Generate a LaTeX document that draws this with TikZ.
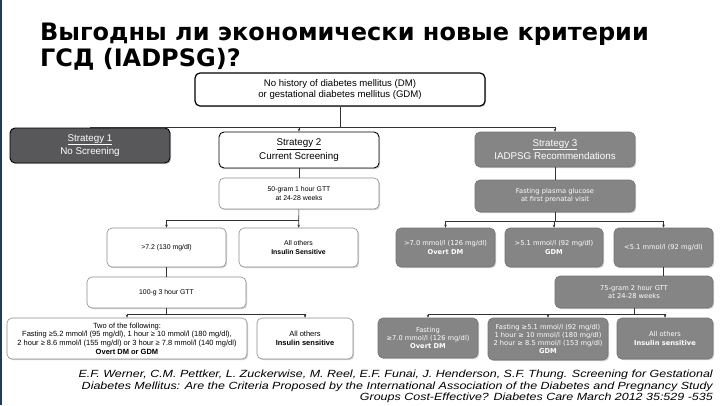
\documentclass[tikz,border=0pt]{standalone}
\usepackage{fontspec}
\setmainfont{Liberation Sans}
\newfontfamily\titlefont{DejaVu Sans}
\newfontfamily\vfont{DejaVu Sans}
\newfontfamily\citefont{Liberation Sans}[FakeStretch=1.2]
\usetikzlibrary{shadows,arrows.meta}
\definecolor{boxgray}{HTML}{858585}
\definecolor{boxdark}{HTML}{58585A}
\definecolor{stripblue}{HTML}{1F3A5A}
\tikzset{
 box/.style={draw, rounded corners=5pt, align=center, inner sep=1pt,
   drop shadow={shadow xshift=1.2pt,shadow yshift=-1.2pt,opacity=0.35}},
 boxsz/.style 2 args={minimum width=#1pt, minimum height=#2pt},
 wbox/.style={box, fill=white, draw=black, line width=0.9pt},
 lbox/.style={box, fill=white, draw=black!45, line width=0.6pt},
 gbox/.style={box, fill=boxgray, draw=black!55, text=white, line width=0.6pt},
 dbox/.style={box, fill=boxdark, draw=black, text=white, line width=0.9pt},
 conn/.style={draw=black!80, line width=0.6pt},
 arr/.style={conn, -{Stealth[length=3pt,width=2.6pt]}},
 big/.style={font=\fontsize{9.8}{13.5}\selectfont},
 mid/.style={font=\fontsize{9.6}{11.5}\selectfont},
 sml/.style={font=\fontsize{6.9}{8.3}\selectfont},
 smlw/.style={font=\fontsize{7.5}{8.6}\selectfont},
 vsml/.style={font=\vfont\fontsize{6.7}{8.1}\selectfont},
}
\begin{document}
\begin{tikzpicture}[x=1pt,y=-1pt]
\fill[white] (0,0) rectangle (720,405);
\useasboundingbox (0,0) rectangle (720,405);
\fill[stripblue] (0,0) rectangle (2.2,405);

% title
\node[anchor=base west, inner sep=0pt, font=\titlefont\bfseries\fontsize{24}{27}\selectfont] (t1) at (40,40) {Выгодны ли экономически новые критерии};
\node[anchor=base west, inner sep=0pt, font=\titlefont\bfseries\fontsize{24}{27}\selectfont] (t2) at (40,66) {ГСД (IADPSG)?};

% top
\node[wbox, boxsz={290}{33}, line width=1.2pt, mid] (top) at (340,89.5) {No history of diabetes mellitus (DM)\\or gestational diabetes mellitus (GDM)};

% strategies
\node[dbox, boxsz={160}{35}, big] (s1) at (90,145.5) {\underline{Strategy 1}\\No Screening};
\node[wbox, boxsz={160}{36}, big] (s2) at (299,150) {\underline{Strategy 2}\\Current Screening};
\node[gbox, boxsz={160}{35}, big] (s3) at (555,149.5) {\underline{Strategy 3}\\IADPSG Recommendations};

% strategy 2 branch
\node[lbox, boxsz={160}{31}, sml] (g50) at (299,193.5) {50-gram 1 hour GTT\\at 24-28 weeks};
\node[lbox, boxsz={119}{39}, sml] (a72) at (166.5,247.5) {>7.2 (130 mg/dl)};
\node[lbox, boxsz={119}{39}, sml] (aoth) at (298.5,247.5) {All others\\\textbf{Insulin Sensitive}};
\node[lbox, boxsz={159}{31}, sml] (g100) at (166.5,292.5) {100-g 3 hour GTT};
\node[lbox, boxsz={240}{41}, smlw] (two) at (127,338.5) {Two of the following:\\Fasting ≥5.2 mmol/l (95 mg/dl), 1 hour ≥ 10 mmol/l (180 mg/dl),\\2 hour ≥ 8.6 mmol/l (155 mg/dl) or 3 hour ≥ 7.8 mmol/l (140 mg/dl)\\\textbf{Overt DM or GDM}};
\node[lbox, boxsz={96}{41}, smlw] (oth2) at (305,338.5) {All others\\\textbf{Insulin sensitive}};

% strategy 3 branch
\node[gbox, boxsz={160}{32}, vsml] (fpg) at (555,196) {Fasting plasma glucose\\at first prenatal visit};
\node[gbox, boxsz={99}{39}, vsml] (r70) at (445.5,247.5) {>7.0 mmol/l (126 mg/dl)\\\textbf{Overt DM}};
\node[gbox, boxsz={98}{39}, vsml] (r51) at (554,247.5) {>5.1 mmol/l (92 mg/dl)\\\textbf{GDM}};
\node[gbox, boxsz={99}{39}, vsml] (rlt) at (663.5,247.5) {<5.1 mmol/l (92 mg/dl)};
\node[gbox, boxsz={158}{32}, vsml] (g75) at (634,292) {75-gram 2 hour GTT\\at 24-28 weeks};
\node[gbox, boxsz={100}{40}, vsml] (f70) at (428,338) {Fasting\\≥7.0 mmol/l (126 mg/dl)\\\textbf{Overt DM}};
\node[gbox, boxsz={120}{42}, vsml] (f51) at (548,339) {Fasting ≥5.1 mmol/l (92 mg/dl)\\1 hour ≥ 10 mmol/l (180 mg/dl)\\2 hour ≥ 8.5 mmol/l (153 mg/dl)\\\textbf{GDM}};
\node[gbox, boxsz={96}{41}, vsml] (oth3) at (665,338.5) {All others\\\textbf{Insulin sensitive}};

% connectors
\coordinate (j1) at (340,127);
\path[conn] (top) -- (j1);
\path[conn] (s1.north |- j1) -- (s3.north |- j1);
\path[conn] (s1.north |- j1) -- (s1.north);
\path[arr] (s2.north |- j1) -- (s2.north);
\path[arr] (s3.north |- j1) -- (s3.north);

\path[conn] (s2) -- (g50);
\path[conn] (s3) -- (fpg);

\coordinate (j2) at (299,220);
\path[arr] (g50) -- (aoth);
\path[conn] (a72.north |- j2) -- (j2);
\path[arr] (a72.north |- j2) -- (a72.north);
\path[conn] (a72) -- (g100);

\coordinate (j3) at (166.5,314);
\path[conn] (g100) -- (j3);
\path[conn] (two.north |- j3) -- (oth2.north |- j3);
\path[arr] (two.north |- j3) -- (two.north);
\path[arr] (oth2.north |- j3) -- (oth2.north);

\coordinate (j4) at (555,221);
\path[conn] (fpg) -- (j4);
\path[conn] (r70.north |- j4) -- (rlt.north |- j4);
\path[arr] (r70.north |- j4) -- (r70.north);
\path[arr] (r51.north |- j4) -- (r51.north);
\path[arr] (rlt.north |- j4) -- (rlt.north);
\path[conn] (rlt.south) -- (rlt.south |- g75.north);

\coordinate (j5) at (634,314);
\path[conn] (g75) -- (j5);
\path[conn] (f70.north |- j5) -- (oth3.north |- j5);
\path[arr] (f70.north |- j5) -- (f70.north);
\path[arr] (f51.north |- j5) -- (f51.north);
\path[arr] (oth3.north |- j5) -- (oth3.north);

% citation
\node[anchor=north east, align=right, inner sep=0pt, font=\citefont\itshape\fontsize{10.4}{11.6}\selectfont] (cite) at (713,370) {E.F. Werner, C.M. Pettker, L. Zuckerwise, M. Reel, E.F. Funai, J. Henderson, S.F. Thung. Screening for Gestational\\Diabetes Mellitus: Are the Criteria Proposed by the International Association of the Diabetes and Pregnancy Study\\Groups Cost-Effective? Diabetes Care March 2012 35:529 -535};
\end{tikzpicture}
\end{document}
